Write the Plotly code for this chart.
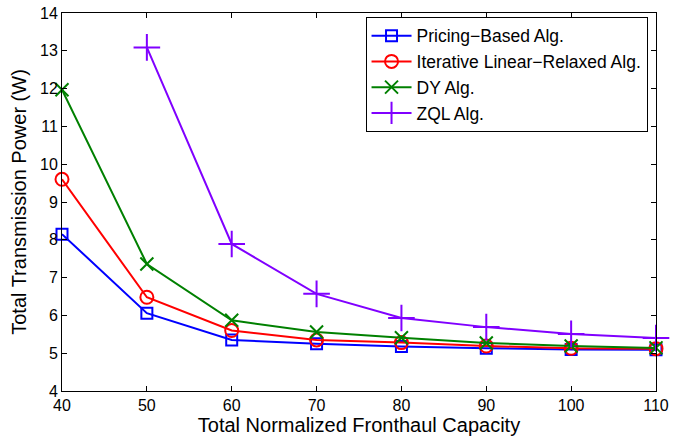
import plotly.graph_objects as go

capacity = [40, 50, 60, 70, 80, 90, 100, 110]
pricing = [8.15, 6.06, 5.35, 5.25, 5.18, 5.13, 5.10, 5.09]
iterative = [9.60, 6.48, 5.60, 5.35, 5.28, 5.19, 5.13, 5.12]
dy = [11.97, 7.36, 5.87, 5.56, 5.41, 5.27, 5.19, 5.14]
zql_x = [50, 60, 70, 80, 90, 100, 110]
zql = [13.09, 7.89, 6.57, 5.93, 5.69, 5.51, 5.40]

names = ["Pricing\u2212Based Alg.", "Iterative Linear\u2212Relaxed Alg.", "DY Alg.", "ZQL Alg."]
colors = ["#0000FF", "#FF0000", "#008000", "#8000FF"]
symbols = ["square-open", "circle-open", "x-thin-open", "cross-thin-open"]
sizes = [11, 13, 13, 19]

fig = go.Figure()
series = [(capacity, pricing), (capacity, iterative), (capacity, dy), (zql_x, zql)]
for (xs, ys), n, c, s, sz in zip(series, names, colors, symbols, sizes):
    fig.add_trace(go.Scatter(
        x=xs, y=ys, name=n, mode="lines+markers",
        line=dict(color=c, width=2),
        marker=dict(symbol=s, size=sz, color=c, line=dict(color=c, width=2)),
        cliponaxis=False,
    ))

font = "Liberation Sans, Arial, sans-serif"
axis_common = dict(
    showline=True, linecolor="black", linewidth=1, mirror="ticks",
    ticks="inside", ticklen=5, tickcolor="black", tickwidth=1,
    showgrid=False, zeroline=False, automargin=False,
    tickfont=dict(family=font, size=16, color="black"),
)
fig.update_xaxes(range=[40, 110], tickvals=capacity,
                 title=dict(text="Total Normalized Fronthaul Capacity",
                            font=dict(family=font, size=20, color="black"), standoff=2),
                 **axis_common)
fig.update_yaxes(range=[4, 14], dtick=1,
                 title=dict(text="Total Transmission Power (W)",
                            font=dict(family=font, size=20, color="black"), standoff=8),
                 **axis_common)

fig.update_layout(
    width=688, height=440,
    margin=dict(l=62, r=32, t=13, b=49),
    plot_bgcolor="white", paper_bgcolor="white",
    font=dict(family=font, color="black"),
    legend=dict(
        x=0.511, y=0.99, xanchor="left", yanchor="top",
        bgcolor="white", bordercolor="black", borderwidth=1,
        font=dict(family=font, size=17.5, color="black"),
        tracegroupgap=0, itemwidth=40,
    ),
)

fig.write_html("out.html", config={"displayModeBar": False},
               post_script="document.body.style.margin='0';document.body.style.padding='0';")
